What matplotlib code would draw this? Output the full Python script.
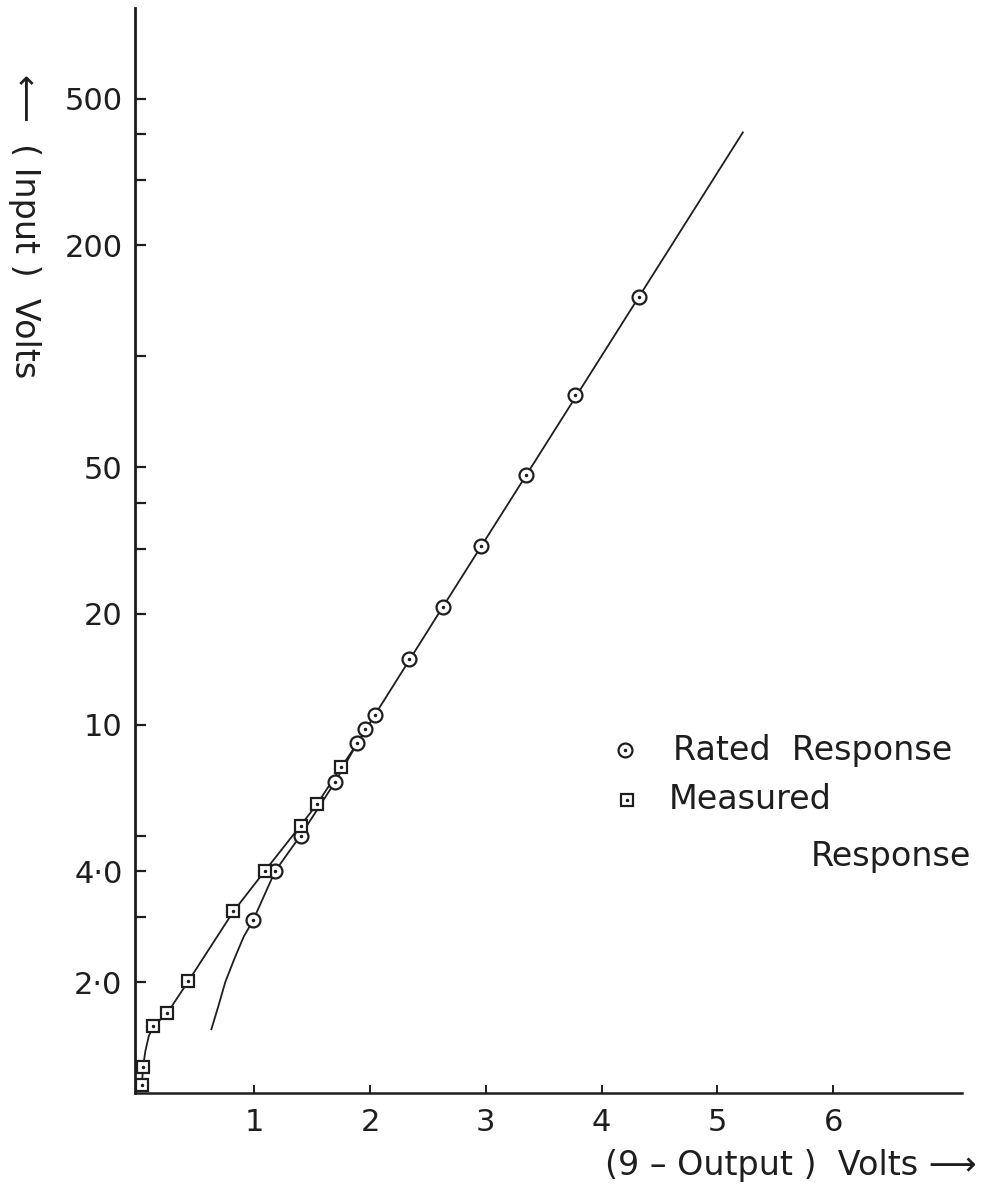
import matplotlib
matplotlib.use("Agg")
import matplotlib.pyplot as plt

# values
rated_x = [0.99, 1.18, 1.40, 1.70, 1.89, 1.96, 2.04, 2.34, 2.63, 2.96, 3.35, 3.77, 4.32]
rated_y = [2.94, 4.0, 5.0, 7.0, 8.9, 9.7, 10.6, 15.1, 20.9, 30.6, 47.6, 78.4, 144.5]
rated_line_x = [0.63, 0.69, 0.75, 0.83, 0.91, 0.99, 1.18, 1.40, 1.70, 1.89, 2.04,
                2.63, 3.35, 4.32, 5.22]
rated_line_y = [1.49, 1.72, 2.0, 2.32, 2.66, 2.94, 4.0, 5.0, 7.0, 8.9, 10.6,
                20.9, 47.6, 144.5, 405]

meas_x = [0.03, 0.04, 0.13, 0.25, 0.43, 0.82, 1.09, 1.40, 1.54, 1.75]
meas_y = [1.05, 1.18, 1.52, 1.65, 2.01, 3.11, 4.0, 5.32, 6.07, 7.65]
meas_line_x = [0.03, 0.04, 0.06, 0.09, 0.13, 0.25, 0.43, 0.82, 1.09, 1.40, 1.54, 1.75, 1.89]
meas_line_y = [1.05, 1.18, 1.30, 1.43, 1.52, 1.65, 2.01, 3.11, 4.0, 5.32, 6.07, 7.65, 8.9]

x_ticks = [1, 2, 3, 4, 5, 6]
y_ticks = [2, 4, 10, 20, 50, 200, 500]
y_labels = ['2·0', '4·0', '10', '20', '50', '200', '500']
y_minor = [3, 5, 30, 40, 100, 300, 400]

plt.rcParams['font.family'] = ['DejaVu Sans']
ink = '#1e1e1e'

fig = plt.figure(figsize=(9.83, 11.9), dpi=100)
ax = fig.add_axes([0.1373, 0.0815, 0.841, 0.912])

ax.plot(rated_line_x, rated_line_y, color=ink, lw=1.3, zorder=2)
ax.plot(meas_line_x, meas_line_y, color=ink, lw=1.3, zorder=2)

ax.plot(rated_x, rated_y, 'o', ms=10, mfc='white', mec=ink, mew=1.6, zorder=3)
ax.plot(rated_x, rated_y, '.', ms=3, color=ink, zorder=4)
ax.plot(meas_x, meas_y, 's', ms=9, mfc='white', mec=ink, mew=1.6, zorder=3)
ax.plot(meas_x, meas_y, '.', ms=3, color=ink, zorder=4)

ax.set_yscale('log')
ax.set_xlim(-0.03, 7.11)
ax.set_ylim(1.0, 883)

ax.set_xticks(x_ticks)
ax.set_xticklabels([str(v) for v in x_ticks])
ax.set_yticks(y_ticks)
ax.set_yticklabels(y_labels)
ax.set_yticks(y_minor, minor=True)
ax.yaxis.set_minor_formatter(plt.NullFormatter())

ax.tick_params(axis='y', which='both', direction='in', length=8, width=1.6,
               labelsize=22, pad=9, colors=ink)
ax.tick_params(axis='x', direction='in', length=6, width=1.4,
               labelsize=22, pad=11, colors=ink)

for side in ['top', 'right']:
    ax.spines[side].set_visible(False)
ax.spines['left'].set_linewidth(2.0)
ax.spines['bottom'].set_linewidth(1.8)
ax.spines['left'].set_color(ink)
ax.spines['bottom'].set_color(ink)

# legend drawn by hand
ax.plot([0.5925], [0.316], 'o', ms=10, mfc='white', mec=ink, mew=1.6,
        transform=ax.transAxes, clip_on=False)
ax.plot([0.5925], [0.316], '.', ms=3, color=ink, transform=ax.transAxes, clip_on=False)
ax.plot([0.595], [0.270], 's', ms=9, mfc='white', mec=ink, mew=1.6,
        transform=ax.transAxes, clip_on=False)
ax.plot([0.595], [0.270], '.', ms=3, color=ink, transform=ax.transAxes, clip_on=False)
ax.text(0.651, 0.316, 'Rated  Response', transform=ax.transAxes, fontsize=24,
        va='center', ha='left', color=ink)
ax.text(0.646, 0.270, 'Measured', transform=ax.transAxes, fontsize=24,
        va='center', ha='left', color=ink)
ax.text(1.012, 0.2175, 'Response', transform=ax.transAxes, fontsize=24,
        va='center', ha='right', color=ink)

fig.text(977 / 983, 1 - 1166 / 1190, '(9 – Output )  Volts ⟶', fontsize=24,
         ha='right', va='center', color=ink)
fig.text(24 / 983, 1 - 226 / 1190, '⟵  ( Input )  Volts', fontsize=24,
         rotation=-90, ha='center', va='center', color=ink)

fig.savefig('out.png', dpi=100, facecolor='white')
